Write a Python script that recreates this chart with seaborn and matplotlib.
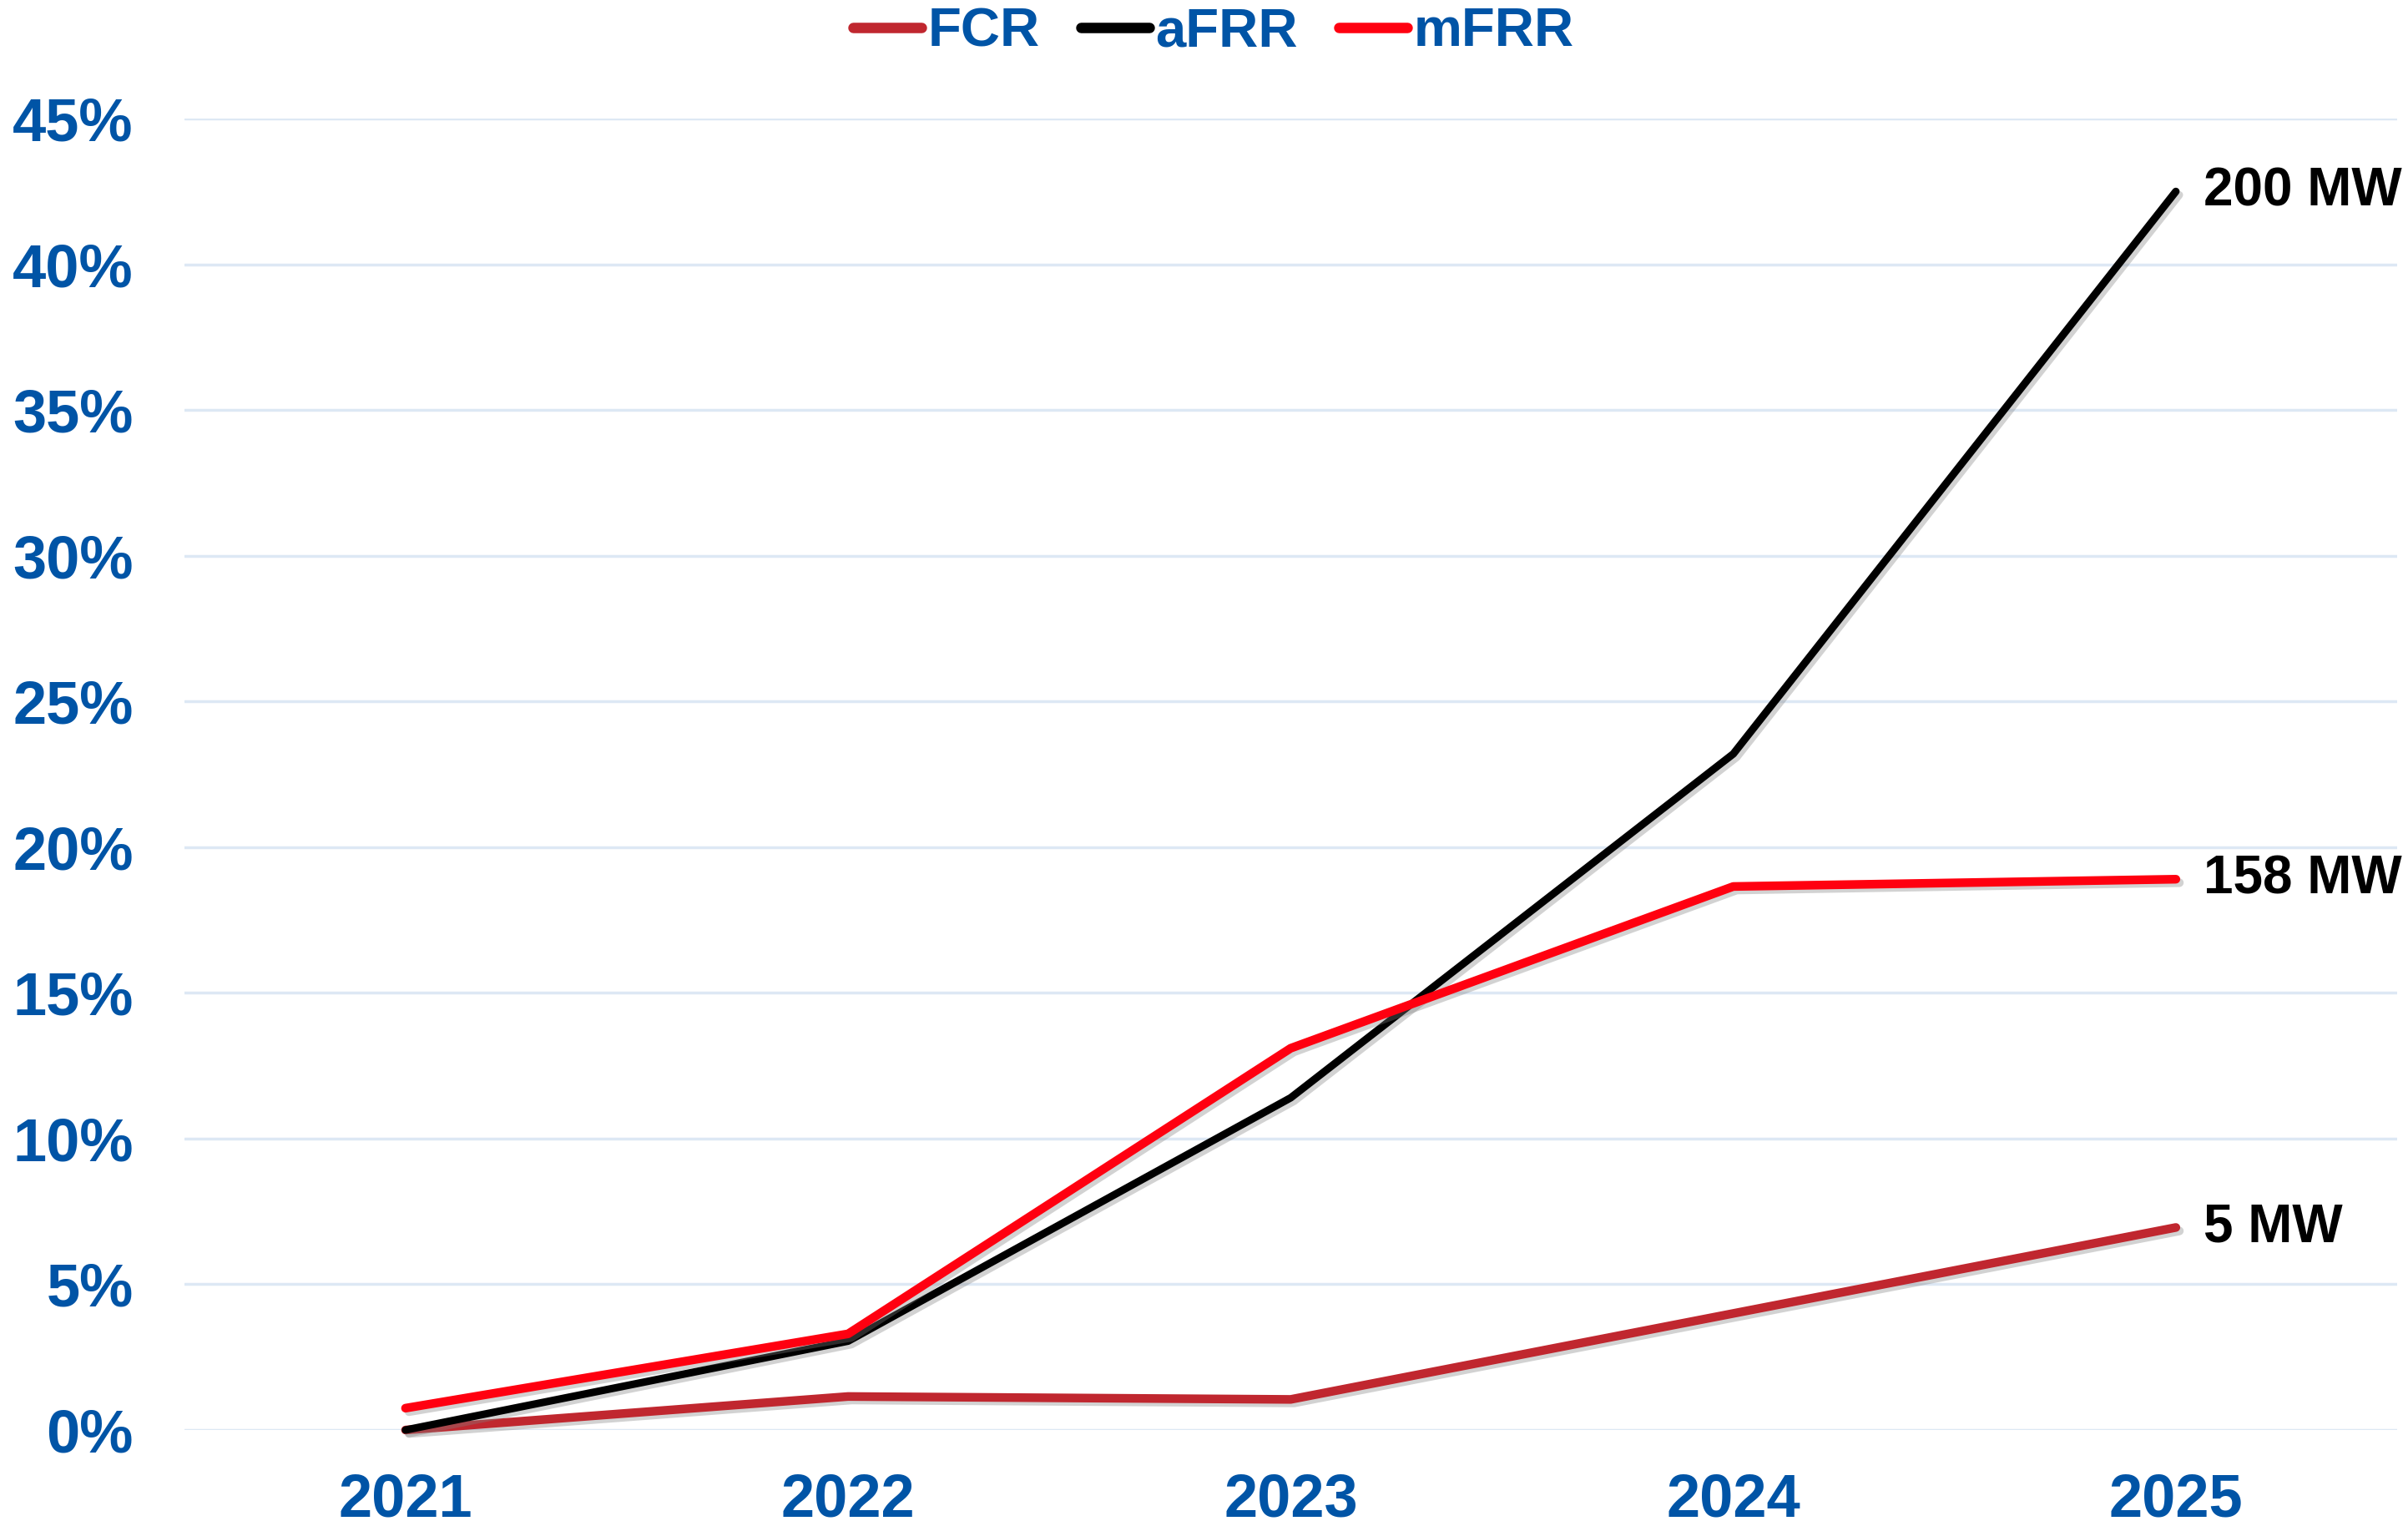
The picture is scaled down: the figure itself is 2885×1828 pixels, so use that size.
import pandas as pd
import matplotlib
matplotlib.use("Agg")
import matplotlib.pyplot as plt
import matplotlib.patheffects as pe
from matplotlib.ticker import PercentFormatter
import seaborn as sns

# Data
years = ["2021", "2022", "2023", "2024", "2025"]
fcr = [0.0, 1.15, 1.05, 4.0, 6.95]
afrr = [0.0, 3.05, 11.4, 23.2, 42.5]
mfrr = [0.75, 3.3, 13.1, 18.65, 18.9]
series_names = ["FCR", "aFRR", "mFRR"]
end_labels = ["5 MW", "200 MW", "158 MW"]
colors = ["#C0272F", "#000000", "#FF0010"]
widths = [7.5, 6.5, 7.5]

blue = "#0054A6"

df = pd.DataFrame({
    "year": years * 3,
    "value": fcr + afrr + mfrr,
    "series": [s for s in series_names for _ in years],
})

sns.set_style("white")
plt.rcParams["font.family"] = ["Liberation Sans", "DejaVu Sans"]
plt.rcParams["font.weight"] = "bold"

fig = plt.figure(figsize=(28.85, 18.28), dpi=100)
ax = fig.add_axes([0.0765, 0.0629, 0.9190, 0.8594])

sns.lineplot(data=df, x="year", y="value", hue="series", hue_order=series_names,
             palette=colors, linewidth=7, sort=False, ax=ax, legend=False)

shadow = [pe.SimpleLineShadow(offset=(3, -3), alpha=0.35, shadow_color="gray"), pe.Normal()]
for line, w in zip(ax.get_lines(), widths):
    line.set_linewidth(w)
    line.set_solid_capstyle("round")
    line.set_solid_joinstyle("round")
    line.set_clip_on(False)
    line.set_path_effects(shadow)

# labels at the line ends
for vals, lab in zip([fcr, afrr, mfrr], end_labels):
    ax.annotate(lab, xy=(len(years) - 1, vals[-1]), xytext=(24, 0), textcoords="offset points",
                ha="left", va="center", fontsize=46, fontweight="bold", color="black",
                annotation_clip=False)

ax.set_xlim(-0.5, 4.5)
ax.set_ylim(0, 45)
ax.set_yticks(range(0, 46, 5))
ax.yaxis.set_major_formatter(PercentFormatter(decimals=0))
ax.grid(axis="y", color="#DDE8F4", linewidth=2.5)
ax.set_axisbelow(True)
for sp in ax.spines.values():
    sp.set_visible(False)
ax.set_xlabel("")
ax.set_ylabel("")
ax.tick_params(axis="y", length=0, pad=44, labelsize=52, labelcolor=blue)
ax.tick_params(axis="x", length=0, pad=36, labelsize=52, labelcolor=blue)
for t in ax.get_xticklabels() + ax.get_yticklabels():
    t.set_fontweight("bold")

handles = [plt.Line2D([], [], color=c, linewidth=9, solid_capstyle="round") for c in colors]
leg = fig.legend(handles, series_names, loc="center", bbox_to_anchor=(0.504, 0.979), ncol=3,
                 frameon=False, fontsize=47, handlelength=1.25, handletextpad=0.12,
                 columnspacing=0.75, borderaxespad=0)
for t in leg.get_texts():
    t.set_color(blue)
    t.set_fontweight("bold")

fig.savefig("out.png", dpi=100, facecolor="white")
